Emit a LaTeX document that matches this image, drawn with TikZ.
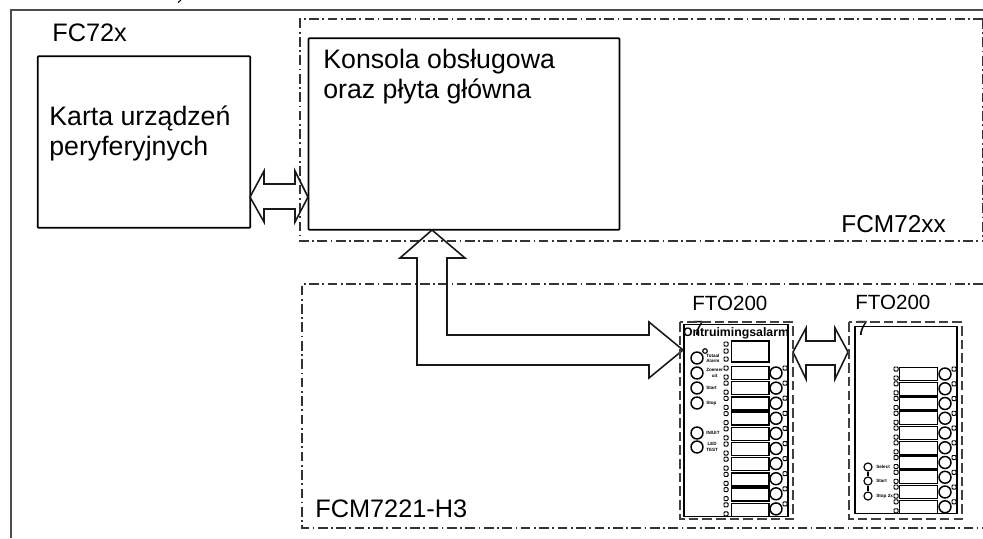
\documentclass[tikz,border=0pt]{standalone}
\usepackage{fontspec}
\setmainfont{Liberation Sans}
\usepackage{tikz}
\tikzstyle{box} = [draw, line width=1pt, rounded corners=0.4pt, inner sep=0pt]
\tikzstyle{frame} = [line width=0.7pt, color=black!70]
\tikzstyle{zone} = [line width=0.6pt, color=black!80, dash pattern=on 5.5pt off 2pt on 1pt off 2pt]
\tikzstyle{panel} = [line width=0.95pt, color=black!75, dash pattern=on 5.5pt off 2.3pt]
\tikzstyle{blockarrow} = [line width=0.9pt, line join=miter, color=black!90]
\tikzstyle{label} = [anchor=base west, inner sep=0pt, font=\fontsize{15.2pt}{17pt}\selectfont]
\tikzstyle{zonetag} = [anchor=base west, inner sep=0pt, font=\fontsize{14.4pt}{17pt}\selectfont]
\tikzstyle{tag} = [anchor=base west, inner sep=0pt, font=\fontsize{11.7pt}{14pt}\selectfont]
\tikzstyle{tiny} = [anchor=west, inner sep=0pt, align=center, font=\fontsize{2.6pt}{3pt}\selectfont\bfseries]
\tikzstyle{rowbox} = [draw, line width=0.7pt, inner sep=0pt, minimum width=21.5pt, minimum height=7.4pt]
\tikzstyle{led} = [draw, line width=0.55pt, rounded corners=0.5pt, inner sep=0pt, minimum size=2.3pt]
\tikzstyle{btn} = [draw, circle, line width=0.85pt, inner sep=0pt, minimum size=6.8pt]
\tikzstyle{smallbtn} = [draw, circle, line width=0.65pt, inner sep=0pt, minimum size=4.6pt]

\begin{document}
\begin{tikzpicture}[x=0.02cm,y=-0.02cm]
\useasboundingbox (0,0) rectangle (983,538);

% frame and zones
\draw[frame] (11,538) -- (11,10) -- (983,10);
\draw[zone] (983,19) -- (300,19) -- (300,241) -- (983,241);
\draw[zone] (982.5,19) -- (982.5,241);
\draw[zone] (983,284) -- (302,284) -- (302,528) -- (983,528);
\draw[line width=0.6pt] (181,0) -- (178,2.5);

% main blocks
\node[box, minimum width=121pt, minimum height=97.5pt] (fc) at (144,142) {};
\node[box, minimum width=176.9pt, minimum height=109pt] (konsola) at (464,134) {};

\node[zonetag] (fctag) at (52,41) {FC72x};
\node[label] (karta) at (49,125) {Karta urządzeń};
\node[label] (peryf) at (49,155) {peryferyjnych};
\node[label] (kons) at (323,68) {Konsola obsługowa};
\node[label] (plyta) at (323,98) {oraz płyta główna};
\node[zonetag, font=\fontsize{13.9pt}{17pt}\selectfont] (fcmtop) at (841,232) {FCM72xx};
\node[zonetag] (fcmbot) at (315,517) {FCM7221-H3};

% block arrows
\draw[blockarrow] (250,197) -- (264,171) -- (264,184) -- (295,184) -- (295,171) -- (308,197)
    -- (295,222) -- (295,209) -- (264,209) -- (264,222) -- cycle;
\draw[blockarrow] (432,230) -- (465,258) -- (447,258) -- (447,335) -- (649,335) -- (649,322)
    -- (683,350) -- (649,378) -- (649,365) -- (417,365) -- (417,258) -- (400,258) -- cycle;
\draw[blockarrow] (793,352) -- (806,328) -- (806,341) -- (835,341) -- (835,328) -- (848,352)
    -- (835,379) -- (835,365) -- (806,365) -- (806,379) -- cycle;

% first panel
\node[tag] (ftoa) at (692,310) {FTO200};
\node[tag] (ftoaseven) at (692,335) {7};
\draw[panel] (680,322) rectangle (793,519);
\node[draw, line width=0.85pt, inner sep=0pt, minimum width=59pt, minimum height=109.5pt] (panela) at (736,420.5) {};
\node[inner sep=0pt, font=\fontsize{7pt}{8pt}\selectfont\bfseries] (ontr) at (736,333) {Ontruimingsalarm};
\node[draw, line width=0.7pt, inner sep=0pt, minimum width=21.5pt, minimum height=12pt] (windowa) at (750,351.5) {};
\foreach \y in {344,351,359} {
    \node[led] (leda\y) at (726,\y) {};
}
\foreach \i in {0,...,9} {
    \node[rowbox] (rowa\i) at (750,{373+15.2*\i}) {};
    \node[led] (lua\i) at (726,{368+15.2*\i}) {};
    \node[led] (lla\i) at (726,{377+15.2*\i}) {};
    \node[btn] (btna\i) at (776,{373+15.1*\i}) {};
    \node[led] (lra\i) at (785,{368+15.1*\i}) {};
}
\foreach \y/\t in {358/{Totaal\\Alarm},373/{Zoemer\\uit},388/Start,403/Stop,433/{IN/UIT},447/{LED\\TEST}} {
    \node[btn] at (697,\y) {};
    \node[tiny] at (706,\y) {\t};
}
\node[smallbtn, minimum size=2.6pt] (ledalarm) at (705,351) {};

% second panel
\node[tag] (ftob) at (855,309) {FTO200};
\node[tag] (ftobseven) at (856,335) {7};
\draw[panel] (849,322) rectangle (962,519);
\node[draw, line width=0.85pt, inner sep=0pt, minimum width=57.8pt, minimum height=106.5pt] (panelb) at (906,420) {};
\foreach \i in {0,...,9} {
    \node[rowbox] (rowb\i) at (918.5,{374+14.75*\i}) {};
    \node[led] (lub\i) at (896,{369+14.75*\i}) {};
    \node[led] (llb\i) at (896,{378+14.75*\i}) {};
    \node[btn] (btnb\i) at (945,{374+14.75*\i}) {};
    \node[led] (lrb\i) at (954,{369+14.75*\i}) {};
}
\node[smallbtn] (sel) at (868,467) {};
\node[smallbtn] (sta) at (868,481) {};
\node[smallbtn] (sto) at (868,496) {};
\draw[line width=0.65pt] (sel) -- (sta);
\draw[line width=0.65pt] (sta) -- (sto);
\node[tiny] at (876,467) {Select};
\node[tiny] at (876,481) {Start};
\node[tiny] at (876,496) {Stop 2x};
\end{tikzpicture}
\end{document}
